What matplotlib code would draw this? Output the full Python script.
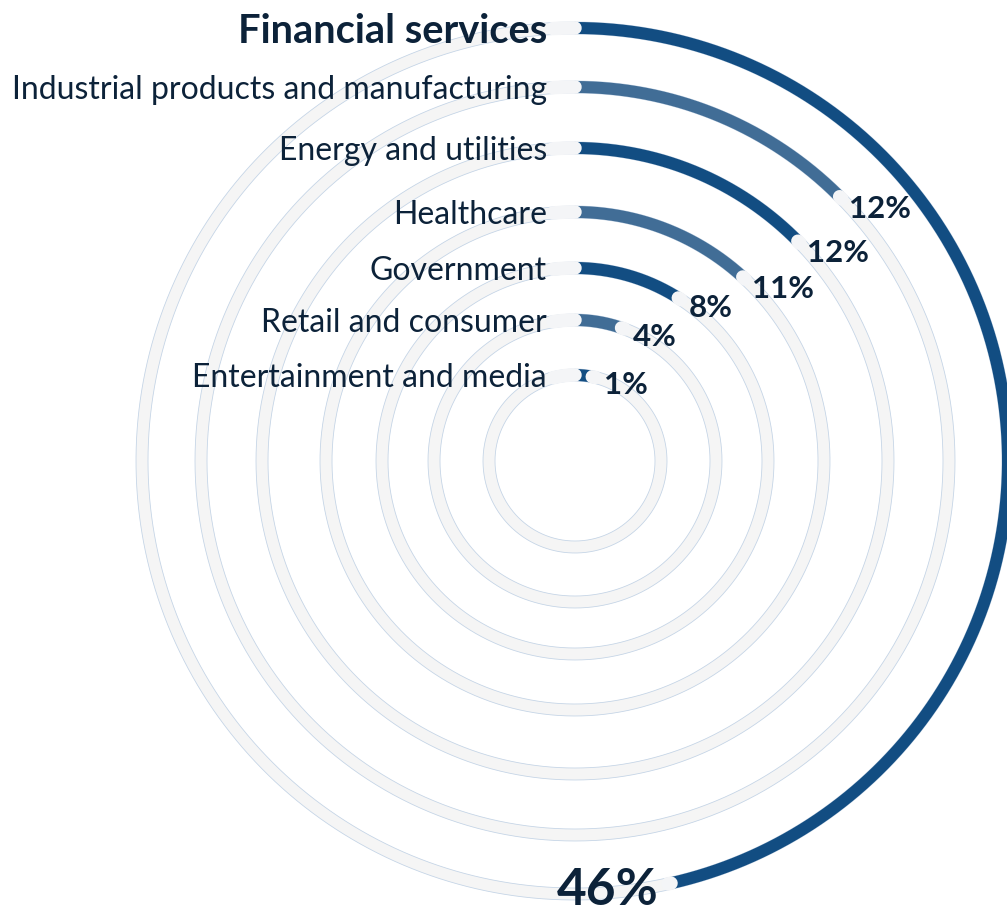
import numpy as np
import matplotlib
matplotlib.use("Agg")
import matplotlib.pyplot as plt

# ---------------- data ----------------
categories = [
    "Financial services",
    "Industrial products and manufacturing",
    "Energy and utilities",
    "Healthcare",
    "Government",
    "Retail and consumer",
    "Entertainment and media",
]
values = [46, 12, 12, 11, 8, 4, 1]  # percent
value_labels = [f"{v}%" for v in values]

# ---------------- layout / style ----------------
W, H, DPI = 1007, 916, 100
CX, CY = 575, 461            # centre of rings (pixels from top-left)
RMAX = 460                   # axes radius in pixels
ring_radii = [433, 374, 313, 249, 193, 141, 86]
DARK = "#124d82"
MID = "#416d96"
ring_colors = [DARK, MID, DARK, MID, DARK, MID, DARK]
TRACK = "#f5f5f5"
TRACK_EDGE = "#c4d4e6"
CAP = "#f4f5f7"
TEXT = "#0c2239"
BAND = 12                    # ring thickness in px
PT = 72.0 / DPI              # px -> pt

plt.rcParams["font.family"] = ["Lato", "DejaVu Sans"]

fig = plt.figure(figsize=(W / DPI, H / DPI), dpi=DPI)
fig.patch.set_facecolor("white")
ax = fig.add_axes([(CX - RMAX) / W, (H - CY - RMAX) / H, 2 * RMAX / W, 2 * RMAX / H],
                  projection="polar")
ax.set_theta_zero_location("N")
ax.set_theta_direction(-1)
ax.set_ylim(0, RMAX)
ax.set_axis_off()

full = np.linspace(0, 2 * np.pi, 1441)

for i, (cat, v, lab, r, col) in enumerate(zip(categories, values, value_labels,
                                               ring_radii, ring_colors)):
    # background track
    ax.plot(full, np.full_like(full, r), lw=BAND * PT, color=TRACK,
            solid_capstyle="butt", zorder=1)
    for dr in (-BAND / 2, BAND / 2):
        ax.plot(full, np.full_like(full, r + dr), lw=0.8 * PT, color=TRACK_EDGE,
                zorder=1.5)

    # value arc (visible part proportional to value, caps overlap both ends)
    th_end = np.deg2rad(v / 100 * 360) + BAND / r
    th = np.linspace(0, th_end, 400)
    ax.plot(th, np.full_like(th, r), lw=BAND * PT, color=col,
            solid_capstyle="butt", zorder=2)

    # rounded light caps at start and end
    ts = np.linspace(-22 / r, 0, 20)
    ax.plot(ts, np.full_like(ts, r), lw=(BAND + 1.5) * PT, color=CAP,
            solid_capstyle="round", zorder=3)
    te = np.linspace(th_end, th_end + 3 / r, 5)
    ax.plot(te, np.full_like(te, r), lw=(BAND + 1.5) * PT, color=CAP,
            solid_capstyle="round", zorder=3)

    # category label
    if i == 0:
        ax.annotate(cat, xy=(0, r), xytext=(-28, 0), textcoords="offset pixels",
                    ha="right", va="center_baseline", fontsize=28.7,
                    fontweight="bold", color=TEXT, zorder=5)
    else:
        ax.annotate(cat, xy=(0, r), xytext=(-28, 0), textcoords="offset pixels",
                    ha="right", va="center_baseline", fontsize=23,
                    color=TEXT, zorder=5)

    # value label
    ta = th_end + 9 / r
    if i == 0:
        ax.annotate(lab, xy=(ta, r), xytext=(-4, -1), textcoords="offset pixels",
                    ha="right", va="center_baseline", fontsize=37,
                    fontweight="bold", color=TEXT, zorder=5,
                    annotation_clip=False)
    else:
        ax.annotate(lab, xy=(ta, r), xytext=(3, -3), textcoords="offset pixels",
                    ha="left", va="center_baseline", fontsize=22.5,
                    fontweight="bold", color=TEXT, zorder=5)

fig.savefig("out.png", dpi=DPI, facecolor="white")
